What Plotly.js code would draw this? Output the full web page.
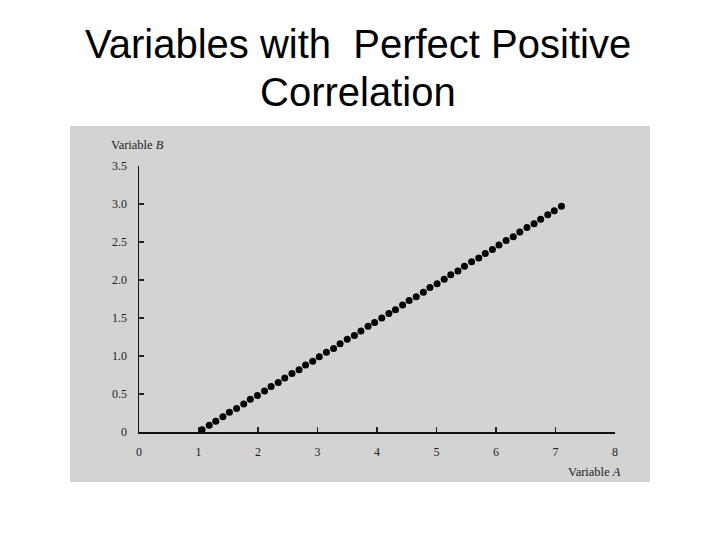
<!DOCTYPE html>
<html>
<head>
<meta charset="utf-8">
<script src="https://cdn.plot.ly/plotly-3.0.1.min.js"></script>
<style>html,body{margin:0;padding:0;background:#fff;}#chart{width:720px;height:540px;}</style>
</head>
<body>
<div id="chart"></div>
<script>
const titleLine1 = "Variables with&nbsp; Perfect Positive";
const titleLine2 = "Correlation";
const xAxisLabel = "Variable <i>A</i>";
const yAxisLabel = "Variable <i>B</i>";

const xTickVals = [0, 1, 2, 3, 4, 5, 6, 7, 8];
const xTickText = ["0", "1", "2", "3", "4", "5", "6", "7", "8"];
const yTickVals = [0, 0.5, 1.0, 1.5, 2.0, 2.5, 3.0, 3.5];
const yTickText = ["0", "0.5", "1.0", "1.5", "2.0", "2.5", "3.0", "3.5"];

const variableA = [1.06, 1.18, 1.29, 1.41, 1.52, 1.64, 1.76, 1.87, 1.99, 2.11,
  2.22, 2.34, 2.45, 2.57, 2.69, 2.80, 2.92, 3.03, 3.15, 3.27,
  3.38, 3.50, 3.62, 3.73, 3.85, 3.96, 4.08, 4.20, 4.31, 4.43,
  4.54, 4.66, 4.78, 4.89, 5.01, 5.13, 5.24, 5.36, 5.47, 5.59,
  5.71, 5.82, 5.94, 6.05, 6.17, 6.29, 6.40, 6.52, 6.64, 6.75,
  6.87, 6.98, 7.10];
const variableB = [0.03, 0.09, 0.14, 0.20, 0.26, 0.31, 0.37, 0.43, 0.48, 0.54,
  0.60, 0.65, 0.71, 0.77, 0.82, 0.88, 0.93, 0.99, 1.05, 1.10,
  1.16, 1.22, 1.27, 1.33, 1.39, 1.44, 1.50, 1.56, 1.61, 1.67,
  1.73, 1.78, 1.84, 1.90, 1.95, 2.01, 2.07, 2.12, 2.18, 2.24,
  2.29, 2.35, 2.40, 2.46, 2.52, 2.57, 2.63, 2.69, 2.74, 2.80,
  2.86, 2.91, 2.97];

const serif = "Liberation Serif, Times New Roman, serif";
const sans = "Liberation Sans, Arial, sans-serif";

const trace = {
  x: variableA,
  y: variableB,
  type: "scatter",
  mode: "markers",
  marker: {color: "#000", size: 7},
  cliponaxis: false,
  hoverinfo: "skip"
};

const axisCommon = {
  showgrid: false,
  zeroline: false,
  showline: true,
  linecolor: "#111",
  linewidth: 1.5,
  ticks: "inside",
  ticklen: 5,
  tickwidth: 1.2,
  tickcolor: "#222",
  tickfont: {family: serif, size: 12, color: "#222"},
  tickmode: "array",
  fixedrange: true
};

const layout = {
  width: 720,
  height: 540,
  margin: {l: 139, r: 105, t: 166, b: 108, pad: 0},
  paper_bgcolor: "#ffffff",
  plot_bgcolor: "rgba(0,0,0,0)",
  showlegend: false,
  xaxis: Object.assign({}, axisCommon, {
    range: [0, 8],
    tickvals: xTickVals,
    ticktext: xTickText,
    ticklabelstandoff: 8
  }),
  yaxis: Object.assign({}, axisCommon, {
    range: [0, 3.5],
    tickvals: yTickVals,
    ticktext: yTickText,
    ticklabelstandoff: 8
  }),
  shapes: [{
    type: "rect", xref: "paper", yref: "paper", layer: "below",
    x0: -0.145, x1: 1.0735, y0: -0.188, y1: 1.150,
    fillcolor: "#d3d3d3", line: {width: 0}
  }],
  annotations: [
    {text: titleLine1, xref: "paper", yref: "paper", x: 0.46, y: 1.46,
     xanchor: "center", yanchor: "middle", showarrow: false,
     font: {family: sans, size: 40, color: "#000"}},
    {text: titleLine2, xref: "paper", yref: "paper", x: 0.46, y: 1.28,
     xanchor: "center", yanchor: "middle", showarrow: false,
     font: {family: sans, size: 40, color: "#000"}},
    {text: yAxisLabel, xref: "paper", yref: "paper", x: -0.063, y: 1.079,
     xanchor: "left", yanchor: "middle", showarrow: false,
     font: {family: serif, size: 12.5, color: "#222"}},
    {text: xAxisLabel, xref: "paper", yref: "paper", x: 1.017, y: -0.150,
     xanchor: "right", yanchor: "middle", showarrow: false,
     font: {family: serif, size: 12.5, color: "#222"}}
  ]
};

Plotly.newPlot("chart", [trace], layout, {staticPlot: true, displayModeBar: false});
</script>
</body>
</html>
